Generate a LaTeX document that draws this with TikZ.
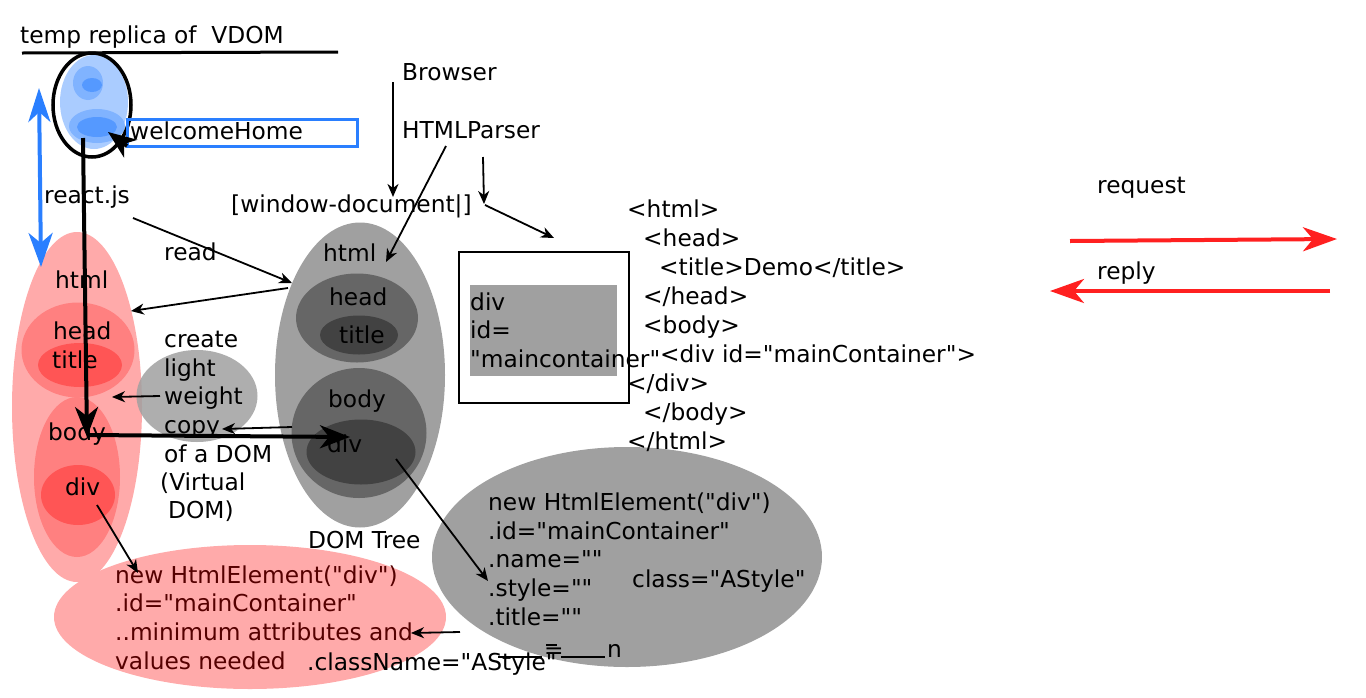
\documentclass[tikz,border=0pt]{standalone}
\usepackage{fontspec}
\setmainfont{DejaVu Sans}[Ligatures=TeXOff]
\usetikzlibrary{arrows.meta}
\usetikzlibrary{shapes.geometric}
\pgfdeclarelayer{shapelayer}
\pgfdeclarelayer{nodelayer}
\pgfsetlayers{shapelayer,nodelayer,main}
\definecolor{vlight}{HTML}{AACCFF}
\definecolor{vmid}{HTML}{80B3FF}
\definecolor{vdark}{HTML}{5599FF}
\definecolor{vblue}{HTML}{2A7FFF}
\definecolor{vred}{HTML}{FF2020}
\definecolor{rlight}{HTML}{FFAAAA}
\definecolor{rmid}{HTML}{FF8080}
\definecolor{rdark}{HTML}{FF5555}
\definecolor{glight}{HTML}{A0A0A0}
\definecolor{gmid}{HTML}{666666}
\definecolor{gdark}{HTML}{424242}
\definecolor{maroon}{HTML}{550000}
\tikzstyle{blob}=[ellipse,inner sep=0pt,draw=none]
\tikzstyle{label}=[inner sep=0pt,anchor=base west]
\tikzstyle{link}=[-{Stealth[length=13pt,width=11pt,inset=4pt]},line width=1.8pt,draw=black]
\tikzstyle{heavy}=[-{Stealth[length=30pt,width=23pt,inset=9pt]},line width=4pt,draw=black]
\tikzstyle{bluelink}=[{Stealth[length=34pt,width=22pt,inset=10pt]}-{Stealth[length=34pt,width=24pt,inset=10pt]},line width=4pt,draw=vblue]
\tikzstyle{redlink}=[-{Stealth[length=34pt,width=24pt,inset=10pt]},line width=4pt,draw=vred]

\begin{document}
\begin{tikzpicture}[x=1pt,y=-1pt,font=\fontsize{23.3}{29}\selectfont]
	\useasboundingbox (0,0) rectangle (1366,697);
	\begin{pgfonlayer}{shapelayer}
		% replica of the VDOM
		\node [blob,fill=vlight,minimum width=68,minimum height=94] (rep) at (94,102) {};
		\node [blob,fill=vmid,minimum width=30,minimum height=34] (rephead) at (88,83) {};
		\node [blob,fill=vdark,minimum width=20,minimum height=14] (reptitle) at (92,85) {};
		\node [blob,fill=vmid,minimum width=56,minimum height=34] (repbody) at (97,126) {};
		\node [blob,fill=vdark,minimum width=40,minimum height=20] (repdiv) at (97,127) {};
		\node [blob,draw=black,line width=3.5pt,minimum width=78,minimum height=104] (repring) at (92,105) {};
		\node [draw=vblue,line width=3pt,minimum width=230,minimum height=27,inner sep=0pt] (whbox) at (242,132.5) {};
		% virtual DOM
		\node [blob,fill=rlight,minimum width=130,minimum height=350] (vdom) at (77,407) {};
		\node [blob,fill=rmid,minimum width=113,minimum height=95] (vhead) at (78,350) {};
		\node [blob,fill=rdark,minimum width=84,minimum height=44] (vtitle) at (80,365) {};
		\node [blob,fill=rmid,minimum width=86,minimum height=160] (vbody) at (77,477) {};
		\node [blob,fill=rdark,minimum width=74,minimum height=60] (vdiv) at (78,495) {};
		\node [blob,fill=glight,fill opacity=0.85,minimum width=121,minimum height=92] (copy) at (197,396) {};
		% DOM tree
		\node [blob,fill=glight,minimum width=170,minimum height=305] (dom) at (360,375) {};
		\node [blob,fill=gmid,minimum width=122,minimum height=89] (dhead) at (357,318) {};
		\node [blob,fill=gdark,minimum width=78,minimum height=39] (dtitle) at (359,335) {};
		\node [blob,fill=gmid,minimum width=135,minimum height=130] (dbody) at (359,433) {};
		\node [blob,fill=gdark,minimum width=109,minimum height=65] (ddiv) at (361,452) {};
		% elements
		\node [blob,fill=glight,minimum width=390,minimum height=220] (gelem) at (627,557) {};
		\node [blob,fill=rlight,minimum width=392,minimum height=144] (relem) at (250,617) {};
		\node [draw=black,line width=2pt,minimum width=170,minimum height=151,inner sep=0pt] (divbox) at (544,327.5) {};
		\node [fill=glight,minimum width=147,minimum height=91,inner sep=0pt] (divfill) at (543.5,330.5) {};
	\end{pgfonlayer}
	\begin{pgfonlayer}{nodelayer}
		\node [style=label] (replica) at (20,43) {temp replica of~ VDOM};
		\node [style=label] (welcome) at (130,139) {welcomeHome};
		\node [style=label] (reactjs) at (44,203) {react.js};
		\node [style=label] (read) at (164,260) {read};
		\node [style=label] (browser) at (402,80) {Browser};
		\node [style=label] (parser) at (402,138) {HTMLParser};
		\node [style=label] (window) at (231,212) {[window-document|]};
		\node [style=label] (request) at (1097,193) {request};
		\node [style=label] (reply) at (1097,279) {reply};
		\node [style=label] (domtree) at (308,548) {DOM Tree};
		\node [style=label] (vhtmltxt) at (55,288) {html};
		\node [style=label] (vheadtxt) at (53,339) {head};
		\node [style=label] (vtitletxt) at (52,368) {title};
		\node [style=label] (vbodytxt) at (48,440) {body};
		\node [style=label] (vdivtxt) at (65,495) {div};
		\node [style=label] (dhtmltxt) at (323,261) {html};
		\node [style=label] (dheadtxt) at (329,305) {head};
		\node [style=label] (dtitletxt) at (339,343) {title};
		\node [style=label] (dbodytxt) at (328,407) {body};
		\node [style=label] (ddivtxt) at (327,452) {div};
		\foreach \x/\y/\t [count=\i] in {164/347/{create},164/376/{light},164/404/{weight},164/433/{copy},164/462/{of a DOM},160/490/{(Virtual},168/518/{DOM)}}
			\node [style=label] (copy\i) at (\x,\y) {\t};
		\foreach \x/\y/\t [count=\i] in {470/310/{div},470/338.5/{id=},470/367/{"maincontainer"}}
			\node [style=label] (box\i) at (\x,\y) {\t};
		\foreach \x/\y/\t [count=\i] in {627/217/{<html>},643/246/{<head>},659/275/{<title>Demo</title>},643/304/{</head>},643/333/{<body>},660/362/{<div id="mainContainer">},627/391/{</div>},643/420/{</body>},627/449/{</html>}}
			\node [style=label] (code\i) at (\x,\y) {\t};
		\foreach \y/\t [count=\i] in {510/{new HtmlElement("div")},539/{.id="mainContainer"},567/{.name=""},596/{.style=""},625/{.title=""}}
			\node [style=label] (gline\i) at (488,\y) {\t};
		\foreach \y/\t [count=\i] in {583/{new HtmlElement("div")},611.5/{.id="mainContainer"},640/{..minimum attributes and},669/{values needed}}
			\node [style=label,text=maroon] (rline\i) at (115,\y) {\t};
		\node [style=label] (cls) at (632,587) {class="AStyle"};
		\node [style=label] (clsname) at (307,670) {.className="AStyle"};
		\node [style=label] (eq) at (544,658) {=};
		\node [style=label] (nn) at (607,657) {n};
	\end{pgfonlayer}
	% connectors
	\coordinate (lineA) at (22,53);
	\coordinate (lineB) at (338,52);
	\coordinate (blueUp) at (39,88);
	\coordinate (blueDown) at (41,267);
	\coordinate (repOut) at (83,138);
	\coordinate (vbodyIn) at (87,437);
	\coordinate (vbodyOut) at (87,435);
	\coordinate (ddivIn) at (350,437);
	\coordinate (whOut) at (127,146);
	\coordinate (repIn) at (108,132);
	\coordinate (readOut) at (133,218);
	\coordinate (dhtmlIn) at (292,283);
	\coordinate (dhtmlOut) at (288,288);
	\coordinate (vhtmlIn) at (131,311);
	\coordinate (copyOut) at (160,396);
	\coordinate (vgapIn) at (112,397);
	\coordinate (dbodyOut) at (292,427);
	\coordinate (copyIn) at (222,429);
	\coordinate (vdivOut) at (97,505);
	\coordinate (relemIn) at (138,573);
	\coordinate (ddivOut) at (396,459);
	\coordinate (gelemIn) at (488,581);
	\coordinate (gelemOut) at (460,632);
	\coordinate (relemAnd) at (411,633);
	\coordinate (browserOut) at (393,82);
	\coordinate (windowIn) at (393,197);
	\coordinate (parserOut) at (446,146);
	\coordinate (dhtmlTop) at (386,262);
	\coordinate (parserDown) at (483,157);
	\coordinate (bracket) at (484,204);
	\coordinate (bracketOut) at (485,205);
	\coordinate (codeIn) at (554,238);
	\coordinate (reqOut) at (1070,241);
	\coordinate (reqIn) at (1337,239);
	\coordinate (repOut2) at (1330,291);
	\coordinate (repIn2) at (1050,291);
	\draw [line width=3pt] (lineA) -- (lineB);
	\draw [style=bluelink] (blueUp) -- (blueDown);
	\draw [style=heavy] (repOut) -- (vbodyIn);
	\draw [style=heavy] (vbodyOut) -- (ddivIn);
	\draw [style=heavy,-{Stealth[length=28pt,width=22pt,inset=8pt]}] (whOut) -- (repIn);
	\draw [style=link] (readOut) -- (dhtmlIn);
	\draw [style=link] (dhtmlOut) -- (vhtmlIn);
	\draw [style=link] (copyOut) -- (vgapIn);
	\draw [style=link] (dbodyOut) -- (copyIn);
	\draw [style=link] (vdivOut) -- (relemIn);
	\draw [style=link] (ddivOut) -- (gelemIn);
	\draw [style=link] (gelemOut) -- (relemAnd);
	\draw [style=link] (browserOut) -- (windowIn);
	\draw [style=link] (parserOut) -- (dhtmlTop);
	\draw [style=link] (parserDown) -- (bracket);
	\draw [style=link] (bracketOut) -- (codeIn);
	\draw [style=redlink] (reqOut) -- (reqIn);
	\draw [style=redlink] (repOut2) -- (repIn2);
	% stray strokes near the class name
	\draw [line width=1.5pt] (498,657) -- (542,657);
	\draw [line width=1.5pt] (546,645) -- (557,645);
	\draw [line width=1.5pt] (561,657) -- (605,657);
\end{tikzpicture}
\end{document}
